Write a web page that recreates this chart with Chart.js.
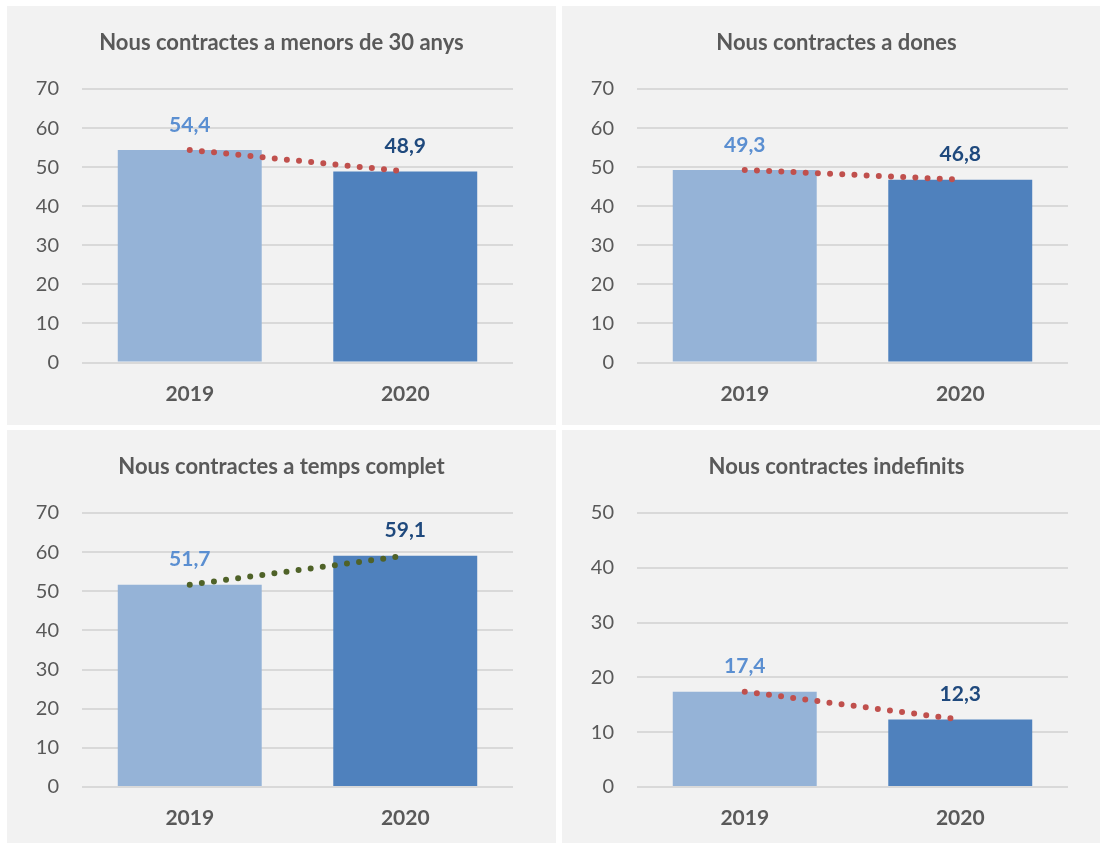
<!DOCTYPE html>
<html>
<head>
<meta charset="utf-8">
<script src="https://cdn.jsdelivr.net/npm/chart.js@4.4.1/dist/chart.umd.min.js"></script>
<style>
  html, body { margin:0; padding:0; background:#fff; width:1100px; height:843px; overflow:hidden; }
  .panel { position:absolute; background:#f2f2f2; }
</style>
</head>
<body>
<div class="panel" id="p0" style="left:7px;top:6px;width:549px;height:419px;"><canvas id="c0"></canvas></div>
<div class="panel" id="p1" style="left:562px;top:6px;width:549px;height:419px;"><canvas id="c1"></canvas></div>
<div class="panel" id="p2" style="left:7px;top:430px;width:549px;height:413px;"><canvas id="c2"></canvas></div>
<div class="panel" id="p3" style="left:562px;top:430px;width:549px;height:413px;"><canvas id="c3"></canvas></div>
<script>
// ── data ──
const years = ['2019', '2020'];
const menors30 = [54.4, 48.9];
const dones = [49.3, 46.8];
const tempsComplet = [51.7, 59.1];
const indefinits = [17.4, 12.3];

const titles = [
  'Nous contractes a menors de 30 anys',
  'Nous contractes a dones',
  'Nous contractes a temps complet',
  'Nous contractes indefinits',
];
const seriesList = [menors30, dones, tempsComplet, indefinits];
const yMaxList = [70, 70, 70, 50];
const trendColors = ['#c0504d', '#c0504d', '#4f6228', '#c0504d'];

const barColors = ['#95b3d7', '#4f81bd'];
const labelColors = ['#5b8fd1', '#1f497d'];
const textGray = '#595959';
const FONT = 'Lato, "Open Sans", sans-serif';

// value labels above the trend points
const valueLabels = {
  id: 'valueLabels',
  afterDatasetsDraw(chart) {
    const meta = chart.getDatasetMeta(0);
    const ds = chart.data.datasets[0];
    const ctx = chart.ctx;
    ctx.save();
    ctx.font = 'bold 21px ' + FONT;
    ctx.textAlign = 'center';
    ctx.textBaseline = 'middle';
    meta.data.forEach((pt, i) => {
      ctx.fillStyle = labelColors[i];
      ctx.fillText(ds.data[i].toFixed(1).replace('.', ','), pt.x, pt.y - 25);
    });
    ctx.restore();
  }
};

seriesList.forEach((vals, k) => {
  const bottomRow = k >= 2;
  new Chart(document.getElementById('c' + k).getContext('2d'), {
    type: 'bar',
    data: {
      labels: years,
      datasets: [
        { type: 'line', data: vals, borderColor: trendColors[k], borderWidth: 6,
          borderDash: [0, 12.2], borderCapStyle: 'round', pointRadius: 0, fill: false, order: 0 },
        { type: 'bar', data: vals, backgroundColor: barColors, borderWidth: 0,
          categoryPercentage: 1, barPercentage: 0.668, order: 1 },
      ]
    },
    options: {
      responsive: true, maintainAspectRatio: false,
      animation: false,
      layout: { padding: 0 },
      scales: {
        x: { grid: { display: false }, border: { display: false },
          ticks: { color: textGray, font: { family: FONT, size: 21, weight: 'bold' }, padding: 11 },
          afterFit: s => { s.height = bottomRow ? 56 : 62.5; } },
        y: { min: 0, max: yMaxList[k], border: { display: false },
          grid: { color: '#d9d9d9', lineWidth: 2, drawTicks: false },
          ticks: { stepSize: 10, color: textGray, font: { family: FONT, size: 20 }, padding: 23 },
          afterFit: s => { s.width = 75; } },
        // empty right axis: keeps the right margin so the title stays centred on the panel
        yRight: { position: 'right', min: 0, max: yMaxList[k], display: true,
          grid: { display: false }, border: { display: false }, ticks: { display: false },
          afterFit: s => { s.width = 43; } },
      },
      plugins: {
        legend: { display: false },
        tooltip: { enabled: false },
        title: { display: true, text: titles[k], color: textGray,
          font: { family: FONT, size: 22, weight: 'bold' }, padding: { top: 23.8, bottom: 32.8 } },
      },
    },
    plugins: [valueLabels]
  });
});
</script>
</body>
</html>
